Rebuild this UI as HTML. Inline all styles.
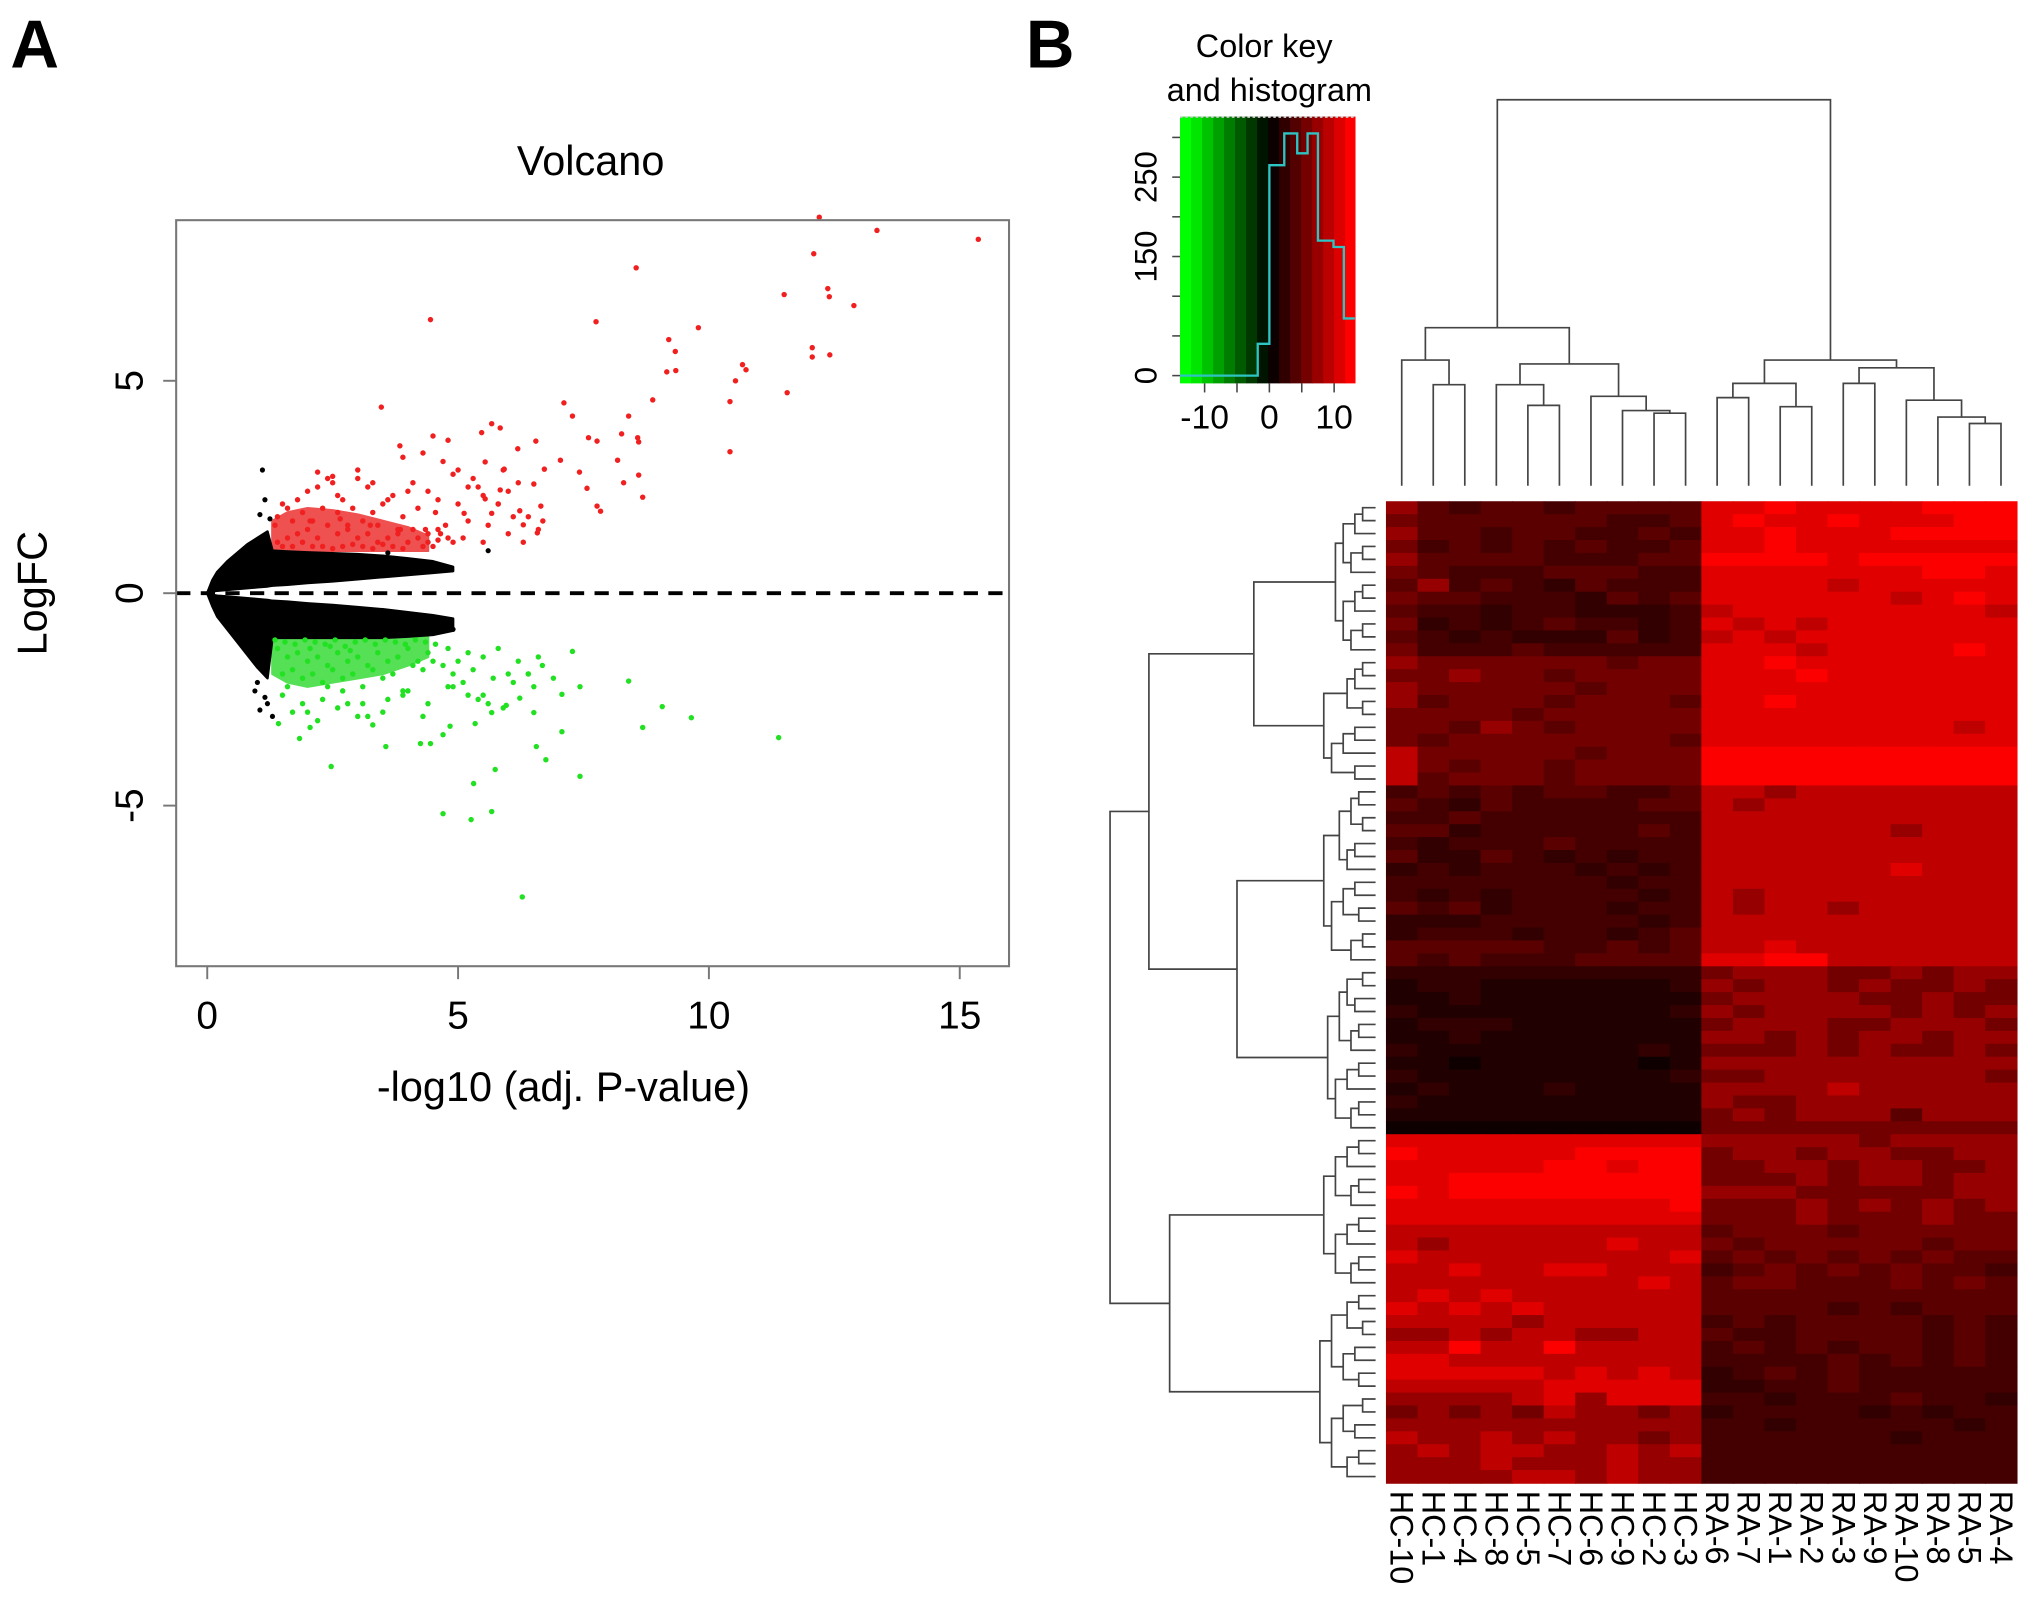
<!DOCTYPE html>
<html><head><meta charset="utf-8">
<style>
html,body{margin:0;padding:0;background:#fff;}
svg{display:block;font-family:"Liberation Sans",Arial,sans-serif;}
</style></head>
<body>
<svg id="fig" xmlns="http://www.w3.org/2000/svg" width="2031" height="1605" viewBox="0 0 1568 1239.2" preserveAspectRatio="none">
<text x="8" y="52" font-size="52" font-weight="bold">A</text>
<text x="792" y="52" font-size="52" font-weight="bold">B</text>
<g id="volcano"></g>
<g id="heat"></g>
</svg>
<script>
// ---------- Volcano data ----------
const volXTicks = [0, 5, 10, 15];
const volYTicks = [-5, 0, 5];
const redX = [12.2,13.35,15.37,12.09,8.55,4.45,7.75,9.79,9.2,9.33,9.16,9.34,11.5,12.37,12.4,12.89,12.06,12.06,12.41,10.67,10.74,10.53,10.42,11.56,10.42,8.88,8.4,8.26,8.58,8.6,8.18,8.6,8.3,8.68,7.11,7.28,7.6,7.77,7.77,7.84,7.04,7.42,7.57,3.47,3.84,
5.47,5.67,5.84,6.55,6.19,5.54,5.92,6.72,6.51,6.65,6.69,6.58,6.3,6.23,5.84,5.67,5.54,5.12,
4.3,4.5,4.7,4.9,4.1,4.4,4.6,4.8,5.0,5.2,4.2,4.55,4.75,5.3,5.5,5.8,6.0,6.1,4.35,4.65,3.9,
2.4,2.5,2.6,3.0,3.2,3.5,3.7,2.2,2.0,1.8,1.6,1.5,1.4,2.9,3.3,3.6,3.9,4.0,2.7,2.3,1.9,1.7,2.8,3.1,3.4,4.1,2.1,2.6,3.8,4.4,
1.4,1.6,1.8,2.0,2.2,2.4,2.6,2.8,3.0,3.2,3.4,3.6,3.8,4.0,4.2,4.4,1.5,1.7,1.9,2.1,2.3,2.5,2.7,2.9,3.1,3.3,3.5,3.7,3.9,4.3,4.5,1.35,2.05,2.65,3.25,3.85,4.6,
4.6,4.8,5.0,5.2,5.4,5.6,5.8,6.0,6.2,6.4,6.6,5.1,5.5,5.9,6.3,3.0,3.3,2.2,2.5,4.9];
const redY = [8.85,8.54,8.33,7.99,7.66,6.44,6.39,6.25,5.97,5.69,5.21,5.24,7.03,7.17,6.98,6.77,5.78,5.56,5.61,5.38,5.26,5.0,4.51,4.72,3.33,4.55,4.17,3.75,3.66,3.56,3.13,2.78,2.6,2.26,4.48,4.17,3.66,3.58,2.05,1.93,3.13,2.85,2.47,4.38,3.47,
3.78,3.99,3.89,3.58,3.4,3.09,2.92,2.92,2.57,2.05,1.7,1.42,1.61,1.94,2.43,1.88,2.22,1.88,
3.3,3.7,3.1,2.8,2.6,2.4,2.2,3.6,2.9,2.5,2.0,1.9,1.6,2.7,2.3,2.1,2.4,1.8,1.5,1.4,3.2,
2.7,2.6,2.3,2.7,2.5,2.1,2.3,2.5,2.4,2.2,2.0,2.1,1.8,2.0,1.9,2.2,1.8,2.4,2.2,2.0,1.9,1.7,1.6,1.7,1.6,1.5,1.7,1.9,1.5,1.4,
1.2,1.3,1.4,1.5,1.3,1.6,1.4,1.5,1.3,1.4,1.2,1.3,1.4,1.2,1.3,1.2,1.1,1.1,1.2,1.1,1.1,1.05,1.1,1.15,1.1,1.05,1.15,1.1,1.05,1.1,1.1,1.6,1.7,1.75,1.6,1.5,1.25,
1.5,1.3,2.1,1.7,2.5,1.6,2.1,1.4,2.6,1.8,1.5,1.3,1.2,2.9,1.2,2.9,2.6,2.85,2.75,1.2];
const greenX = [6.28,5.26,4.7,5.67,5.31,5.74,7.43,6.75,6.56,7.07,8.68,9.07,9.65,11.39,8.4,7.28,6.68,7.07,7.43,2.47,3.56,4.25,4.45,4.7,4.84,5.34,5.67,5.96,6.51,6.23,6.51,1.84,1.42,2.05,
1.4,1.6,1.8,2.0,2.2,2.4,2.6,2.8,3.0,3.2,3.4,3.6,3.8,4.0,4.2,4.4,1.5,1.7,1.9,2.1,2.3,2.5,2.7,2.9,3.1,3.3,3.5,3.7,3.9,4.1,4.3,4.5,4.7,4.9,5.1,5.3,5.5,5.7,6.0,
1.5,1.9,2.3,2.7,3.1,3.5,3.9,4.3,1.6,2.0,2.4,2.8,3.2,3.6,4.0,4.4,4.8,5.2,5.6,6.1,6.4,3.3,3.0,2.6,2.2,1.7,
1.35,1.55,1.75,1.95,2.15,2.35,2.55,2.75,2.95,3.15,3.35,3.55,3.75,3.95,4.15,4.35,4.55,2.05,2.45,2.85,
4.8,5.0,5.2,5.5,5.8,6.2,6.6,6.9,4.9,5.4,5.9,6.4];
const greenY = [-7.15,-5.33,-5.19,-5.14,-4.48,-4.15,-4.31,-3.92,-3.61,-3.26,-3.16,-2.67,-2.93,-3.4,-2.07,-1.37,-1.7,-2.38,-2.2,-4.08,-3.61,-3.54,-3.54,-3.33,-3.13,-3.07,-2.81,-2.64,-2.81,-2.47,-2.2,-3.42,-3.07,-3.16,
-1.3,-1.5,-1.4,-1.6,-1.5,-1.7,-1.4,-1.6,-1.5,-1.7,-1.4,-1.6,-1.5,-1.3,-1.6,-1.4,-1.9,-1.8,-2.0,-1.9,-2.1,-1.8,-2.0,-1.9,-2.2,-1.8,-2.0,-1.9,-2.3,-1.7,-1.8,-1.6,-1.7,-1.9,-2.1,-1.8,-2.4,-2.0,-1.9,
-2.4,-2.6,-2.5,-2.3,-2.6,-2.8,-2.4,-2.9,-2.2,-2.8,-2.2,-2.6,-2.9,-2.5,-2.3,-2.6,-2.2,-2.4,-2.6,-2.1,-1.9,-3.1,-2.9,-2.7,-3.0,-2.8,
-1.1,-1.15,-1.2,-1.1,-1.15,-1.2,-1.1,-1.25,-1.15,-1.1,-1.2,-1.1,-1.15,-1.2,-1.1,-1.15,-1.2,-1.3,-1.25,-1.35,
-1.3,-1.6,-1.4,-1.5,-1.3,-1.6,-1.5,-2.0,-2.2,-2.5,-2.7,-1.9];
// black cloud envelope
const blackX     = [0, 0.1, 0.2, 0.4, 0.6, 0.8, 1.0, 1.2, 1.3, 1.6, 2.0, 2.5, 3.0, 3.5, 4.0, 4.5, 4.9];
const upTop      = [0, 0.3, 0.5, 0.75, 0.95, 1.15, 1.3, 1.45, 1.0, 0.98, 0.96, 0.94, 0.92, 0.88, 0.82, 0.75, 0.62];
const upBottom   = [0, 0.04, 0.06, 0.08, 0.1, 0.12, 0.14, 0.16, 0.18, 0.2, 0.24, 0.28, 0.33, 0.38, 0.43, 0.48, 0.52];
const lowTop     = [0, -0.04, -0.06, -0.08, -0.1, -0.12, -0.14, -0.16, -0.18, -0.2, -0.24, -0.28, -0.33, -0.38, -0.45, -0.52, -0.6];
const lowBottom  = [0, -0.3, -0.55, -0.85, -1.15, -1.45, -1.75, -2.0, -1.05, -1.05, -1.05, -1.05, -1.05, -1.05, -1.02, -0.98, -0.88];
// dense core of significant points (envelopes)
const coreX      = [1.3, 1.6, 2.0, 2.5, 3.0, 3.5, 4.0, 4.4];
const redCoreTop = [1.7, 1.9, 2.0, 1.95, 1.85, 1.7, 1.55, 1.35];
const redCoreBot = [1.0, 1.0, 1.0, 1.0, 1.0, 1.0, 1.0, 1.0];
const grnCoreTop = [-1.0, -1.0, -1.0, -1.0, -1.0, -1.0, -1.0, -1.0];
const grnCoreBot = [-1.9, -2.1, -2.2, -2.1, -2.0, -1.9, -1.7, -1.5];
const blackPtX = [1.1, 1.15, 1.05, 1.25, 1.0, 0.95, 1.2, 1.3, 1.15, 1.05, 3.6, 4.9, 5.6];
const blackPtY = [2.9, 2.2, 1.85, 1.75, -2.1, -2.3, -2.6, -2.9, -2.45, -2.75, 0.95, -0.85, 1.0];

// ---------- Heatmap data ----------
const colLabels = ["HC-10","HC-1","HC-4","HC-8","HC-5","HC-7","HC-6","HC-9","HC-2","HC-3","RA-6","RA-7","RA-1","RA-2","RA-3","RA-9","RA-10","RA-8","RA-5","RA-4"];
const heatRows = [
"64344344448898888999","54444443348988988899","64434433438898889999","53434343348898888888",
"64444333449999899999","54333444338888888998","46343243338888788888","54433324348888887898",
"43323322237888888887","52323433238787888888","43232224237878888888","53334333338887888898",
"65555554558898888888","55655455558889888888","65555545558888888888","64555455548898888888",
"55554555558888888888","55465455558888888878","54555555548888888888","75555545559999999999",
"75455455559999999999","74555455559999999999",
"34343443347767777777","43243333447677777777","33433333337777777777","44233333437777776777",
"32333433337777777777","42243232337777777777","23233323237777778777","33333332337777777777",
"32323333237677777777","43423332337677677777","22233333237777777777","23332332347777777777",
"44444334347787777777","43433344448899777777",
"22222222225666556566","12211111126566565565","11211111115666655655","21111111126566665656",
"12221111115666556665","11211111116656566566","21111111215556565565","11011111016666666666",
"21111111125566666665","12111211116666766666","21111111116556666666","11111111115656664666",
"00000000005555555555",
"88888888886666656666","98888899995665665566","88888998995566566556","88999999995556566566",
"98999999996665555566","88888888895556565656","88888888885556555655","77777777774555455555",
"76777778775455555455","87777777784545454544","77877887773454545443","77777777874554445454",
"78787777774444444444","87878777774444343444","77776777773434444343","66767766774334444343",
"77977977773434344343","88777777773333434343","88888787872343433333","77777888882233433333",
"66667868883323334332","56565766562333323233","66666666663323333323","76676766563333332333",
"67677667673333333333","66676667663333333333","66667767663333333333"];
const redLevels = [14,32,50,68,90,115,150,190,225,252];
// column dendrogram merges: [a, b, height] ; negative = leaf, positive = merge index (1-based)
const colMerges = [
 [-2,-3,297],[-1,1,278],[-5,-6,313],[-4,3,297],[-9,-10,319],[-8,5,317],[-7,6,306],[4,7,281],[2,8,253],
 [-13,-14,314],[-11,-12,307],[11,10,296],[-15,-16,296],[-19,-20,327],[-18,14,322],[-17,15,309],[13,16,284],[12,17,278],[9,18,77]];
// color key
const keyEdges = [-13.8,-12.1,-10.4,-8.7,-7.0,-5.3,-3.6,-1.9,-0.2,1.5,3.2,4.9,6.6,8.3,10.0,11.7,13.2];
const histEdges = [-13.8,-1.8,0.0,2.3,4.3,5.9,7.5,9.9,11.5,13.2];
const histCounts = [0,40,265,305,280,305,170,162,72];
const keyXTicks = [-10,-5,0,5,10];
const keyYTicks = [0,50,100,150,200,250,300];
const keyYLabels = ["0","","","150","","250",""];

const NS = "http://www.w3.org/2000/svg";
function mk(tag, attrs, parent){const e=document.createElementNS(NS,tag);for(const k in attrs)e.setAttribute(k,attrs[k]);parent.appendChild(e);return e;}

// ---------- Volcano drawing ----------
const V = document.getElementById('volcano');
const vx = x => 160 + x*38.73;
const vy = y => 458 - y*32.8;
let t;
t=mk('text',{x:456,y:135,'font-size':32,'text-anchor':'middle'},V);t.textContent='Volcano';


function envPoly(xs,top,bot,fill,name){
  let pts=[];for(let i=0;i<xs.length;i++)pts.push(vx(xs[i])+','+vy(top[i]));
  for(let i=xs.length-1;i>=0;i--)pts.push(vx(xs[i])+','+vy(bot[i]));
  const p=mk('polygon',{points:pts.join(' '),fill:fill,stroke:fill,'stroke-width':2,'stroke-linejoin':'round'},V);
  
  
}
envPoly(coreX,redCoreTop,redCoreBot,'#ef5050','up-regulated-core');
envPoly(coreX,grnCoreTop,grnCoreBot,'#55e055','down-regulated-core');
envPoly(blackX,upTop,upBottom,'#000','nonsig-up-cloud');
envPoly(blackX,lowTop,lowBottom,'#000','nonsig-down-cloud');
for(let i=0;i<blackPtX.length;i++){const c=mk('circle',{cx:vx(blackPtX[i]),cy:vy(blackPtY[i]),r:2,fill:'#000'},V);
  
  }
for(let i=0;i<redX.length;i++){const c=mk('circle',{cx:vx(redX[i]),cy:vy(redY[i]),r:2.1,fill:'#f02020'},V);
  
  }
for(let i=0;i<greenX.length;i++){const c=mk('circle',{cx:vx(greenX[i]),cy:vy(greenY[i]),r:2.1,fill:'#22e022'},V);
  
  }
let ln=mk('line',{x1:136,x2:779,y1:vy(0),y2:vy(0),stroke:'#000','stroke-width':3,'stroke-dasharray':'11 8'},V);


let box=mk('rect',{x:136,y:170,width:643,height:576,fill:'none',stroke:'#777','stroke-width':1.6},V);


volXTicks.forEach(v=>{const l=mk('line',{x1:vx(v),x2:vx(v),y1:746,y2:756,stroke:'#777','stroke-width':1.5},V);
  
  
  const tx=mk('text',{x:vx(v),y:794,'font-size':30,'text-anchor':'middle'},V);tx.textContent=v;
  
  });
volYTicks.forEach(v=>{const l=mk('line',{x1:126,x2:136,y1:vy(v),y2:vy(v),stroke:'#777','stroke-width':1.5},V);
  
  
  const tx=mk('text',{x:110,y:vy(v),'font-size':30,'text-anchor':'middle',transform:`rotate(-90 110 ${vy(v)})`},V);tx.textContent=v;
  
  });
t=mk('text',{x:435,y:850,'font-size':32,'text-anchor':'middle'},V);t.textContent='-log10 (adj. P-value)';


t=mk('text',{x:36,y:458,'font-size':32,'text-anchor':'middle',transform:'rotate(-90 36 458)'},V);t.textContent='LogFC';



// ---------- Heatmap drawing ----------
const H = document.getElementById('heat');
const hx0=1070, hx1=1557, hy0=387, hy1=1145;
const cw=(hx1-hx0)/colLabels.length, rh=(hy1-hy0)/heatRows.length;
const cellColor = v => `rgb(${redLevels[v]},0,0)`;
heatRows.forEach((row,r)=>{for(let c=0;c<colLabels.length;c++){
  const rc=mk('rect',{x:hx0+c*cw,y:hy0+r*rh,width:cw+0.6,height:rh+0.6,fill:cellColor(+row[c])},H);
  
  }});
colLabels.forEach((lab,c)=>{const x=hx0+(c+0.5)*cw;
  const tx=mk('text',{x:x,y:1151,'font-size':25,'dominant-baseline':'central',transform:`rotate(90 ${x} 1151)`},H);tx.textContent=lab;
  
  });
const leafTop=375; const nodes=[];
function nodeInfo(id){return id<0?{x:hx0+(-id-0.5)*cw,y:leafTop}:nodes[id-1];}
const dg=mk('g',{stroke:'#444','stroke-width':1.3,fill:'none'},H);


colMerges.forEach(m=>{const a=nodeInfo(m[0]),b=nodeInfo(m[1]),h=m[2];
  mk('path',{d:`M${a.x} ${a.y}V${h}H${b.x}V${b.y}`},dg);nodes.push({x:(a.x+b.x)/2,y:h});});
const rg=mk('g',{stroke:'#444','stroke-width':1.3,fill:'none'},H);


const leafX=1062;
function rowTree(lo,hi){
  if(lo===hi) return {x:leafX,y:hy0+(lo+0.5)*rh};
  const mid=Math.floor((lo+hi)/2);
  const a=rowTree(lo,mid),b=rowTree(mid+1,hi);
  const n=hi-lo+1;
  const x=Math.min(a.x,b.x)-(n<=2?10+(lo%3)*3:6+(lo%2)*3);
  mk('path',{d:`M${a.x} ${a.y}H${x}V${b.y}H${b.x}`},rg);
  return {x:x,y:(a.y+b.y)/2};
}
function join(a,b,x){mk('path',{d:`M${a.x} ${a.y}H${x}V${b.y}H${b.x}`},rg);return {x:x,y:(a.y+b.y)/2};}
const g1=join(rowTree(0,11),rowTree(12,21),968);
const g23=join(rowTree(22,35),rowTree(36,48),955);
const gA=join(g1,g23,887);
const g4=join(rowTree(49,60),rowTree(61,75),903);
join(gA,g4,857);

// color key
const K=mk('g',{},H);


const kx0=911,kx1=1046,ky0=90,ky1=296,kv0=-13.8,kv1=13.2;
const kx=v=>kx0+(v-kv0)/(kv1-kv0)*(kx1-kx0);
const ky=c=>290-c*0.613;
for(let i=0;i<keyEdges.length-1;i++){const mid=(keyEdges[i]+keyEdges[i+1])/2;
  const f=Math.min(1,Math.abs(mid)/12.5);const col=mid<0?`rgb(0,${Math.round(f*255)},0)`:`rgb(${Math.round(f*255)},0,0)`;
  const s=mk('rect',{x:kx(keyEdges[i]),y:ky0,width:kx(keyEdges[i+1])-kx(keyEdges[i])+0.5,height:ky1-ky0,fill:col},K);
  
  }
let d=`M${kx(histEdges[0])} ${ky(0)}`;
for(let i=0;i<histCounts.length;i++){d+=`V${ky(histCounts[i])}H${kx(histEdges[i+1])}`;}
const hp=mk('path',{d:d,fill:'none',stroke:'#2ec4c4','stroke-width':1.8},K);


mk('line',{x1:kx0,x2:kx1,y1:ky0+0.5,y2:ky0+0.5,stroke:'#bbb','stroke-width':1.2,'stroke-dasharray':'2 2'},K);
keyYTicks.forEach((v,i)=>{const l=mk('line',{x1:kx0-6,x2:kx0,y1:ky(v),y2:ky(v),stroke:'#444','stroke-width':1.2},K);
  
  
  if(keyYLabels[i]){const tx=mk('text',{x:893,y:ky(v),'font-size':24,'text-anchor':'middle',transform:`rotate(-90 893 ${ky(v)})`},K);tx.textContent=keyYLabels[i];
  
  }});
keyXTicks.forEach(v=>{const l=mk('line',{x1:kx(v),x2:kx(v),y1:ky1,y2:ky1+7,stroke:'#444','stroke-width':1.2},K);
  
  
  if(v%10===0){const tx=mk('text',{x:kx(v),y:331,'font-size':26,'text-anchor':'middle'},K);tx.textContent=v;
  
  }});
t=mk('text',{x:976,y:44,'font-size':25,'text-anchor':'middle'},K);t.textContent='Color key';


t=mk('text',{x:980,y:78,'font-size':25,'text-anchor':'middle'},K);t.textContent='and histogram';


</script>
</body></html>
